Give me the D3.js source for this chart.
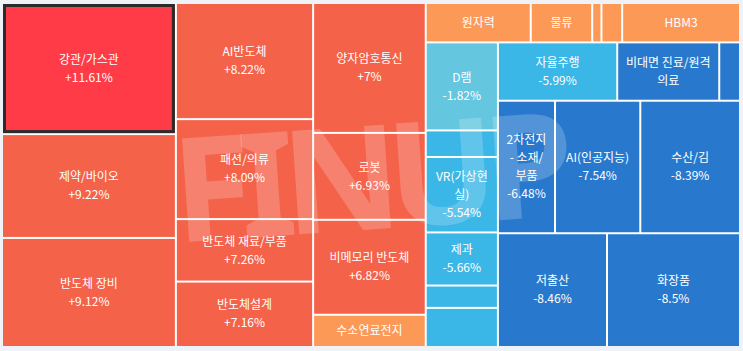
<!DOCTYPE html>
<html>
<head>
<meta charset="utf-8">
<script src="https://cdn.jsdelivr.net/npm/d3@7"></script>
<style>
  html, body { margin: 0; padding: 0; background: #eff2f7; }
  svg { display: block; }
  .cell-label { font-family: "Noto Sans CJK KR", "Noto Sans", sans-serif; font-size: 12px; fill: #fff; }
</style>
</head>
<body>
<div id="container"></div>
<script>
// theme names, sorted from highest to lowest change
// (empty names = cells too small to show a label, name not readable)
const themes = ["강관/가스관", "제약/바이오", "반도체 장비", "AI반도체", "패션/의류",
    "반도체 재료/부품", "반도체설계", "양자암호통신", "로봇", "비메모리 반도체",
    "수소연료전지", "원자력", "물류", "", "", "HBM3",
    "D램", "", "VR(가상현실)", "제과", "", "",
    "자율주행", "비대면 진료/원격 의료", "",
    "2차전지 - 소재/부품", "AI(인공지능)", "수산/김", "저출산", "화장품"];

// size of each theme (cell area)
const sizes = [226, 179, 188, 158, 136,
    85, 89, 145, 97, 106,
    36, 41, 24, 3.6, 8.1, 46,
    63, 19, 54, 38, 16, 28,
    69, 59, 12,
    75, 112, 131, 123, 150];

// change in %, the unlabeled ones are guesses from their colour / order
const changes = [11.61, 9.22, 9.12, 8.22, 8.09,
    7.26, 7.16, 7, 6.93, 6.82,
    4.5, 3.8, 3.1, 2.4, 1.7, 1.1,
    -1.82, -4.2, -5.54, -5.66, -5.8, -5.9,
    -5.99, -6.2, -6.4,
    -6.48, -7.54, -8.39, -8.46, -8.5];

const highlighted = "강관/가스관";

let w = 743;
let h = 351;
let padLeft = 3, padTop = 4;
let mapW = 736, mapH = 342;
let lineH = 18;

let viz = d3.select("#container")
    .append("svg")
    .attr("width", w)
    .attr("height", h);

// colour by change
let colorScale = d3.scaleThreshold()
    .domain([-6, -3, 0, 5, 10])
    .range(["#2879cd", "#3ab7e6", "#64c6df", "#fd9956", "#f4624a", "#fe3b46"]);

let root = d3.hierarchy({
    children: themes.map((name, i) => ({name: name, size: sizes[i], change: changes[i]}))
}).sum(d => d.size || 0);

d3.treemap()
    .size([mapW, mapH])
    .paddingInner(2)
    .tile(d3.treemapSquarify)(root);

let mapGroup = viz.append("g").attr("transform", `translate(${padLeft},${padTop})`);

// white shows through the gaps between cells
mapGroup.append("rect")
    .attr("width", mapW)
    .attr("height", mapH)
    .attr("fill", "#fff");

let cells = mapGroup.selectAll(".cell")
    .data(root.leaves())
    .enter()
    .append("g")
    .classed("cell", true)
    .attr("transform", d => `translate(${d.x0},${d.y0})`);

cells.append("rect")
    .attr("width", d => d.x1 - d.x0)
    .attr("height", d => d.y1 - d.y0)
    .attr("fill", d => colorScale(d.data.change));

// the selected cell gets a dark frame
cells.filter(d => d.data.name === highlighted)
    .append("rect")
    .attr("x", 1.5)
    .attr("y", 1.5)
    .attr("width", d => d.x1 - d.x0 - 3)
    .attr("height", d => d.y1 - d.y0 - 3)
    .attr("fill", "none")
    .attr("stroke", "#2b2b2b")
    .attr("stroke-width", 3);

// watermark
viz.append("text")
    .attr("x", 172)
    .attr("y", 229)
    .attr("textLength", 402)
    .attr("lengthAdjust", "spacing")
    .attr("transform", "rotate(-4,372,176)")
    .attr("font-family", "'Noto Sans', sans-serif")
    .attr("font-weight", 700)
    .attr("font-size", 145)
    .attr("fill", "#fff")
    .attr("fill-opacity", 0.2)
    .text("FINUP");

// text measuring helper
let measure = viz.append("text").classed("cell-label", true).attr("opacity", 0);
function textWidth(str) {
    measure.text(str);
    return measure.node().getComputedTextLength();
}

// break at spaces and after "/", fall back to single characters
function wrap(name, maxW) {
    let segs = name.split(/(?<=[ \/])/);
    let lines = [];
    let line = "";
    segs.forEach(seg => {
        let test = line + seg;
        if (line === "" || textWidth(test.trimEnd()) <= maxW) line = test;
        else { lines.push(line.trimEnd()); line = seg; }
    });
    if (line) lines.push(line.trimEnd());
    let out = [];
    lines.forEach(l => {
        if (textWidth(l) <= maxW) { out.push(l); return; }
        let cur = "";
        for (const ch of l) {
            if (cur && textWidth(cur + ch) > maxW) { out.push(cur); cur = ch; }
            else cur += ch;
        }
        if (cur) out.push(cur);
    });
    return out;
}

function formatChange(v) {
    return (v > 0 ? "+" : "") + v + "%";
}

let labelLayer = mapGroup.append("g");
root.leaves().forEach(d => {
    if (!d.data.name) return;
    let cw = d.x1 - d.x0;
    let ch = d.y1 - d.y0;
    let lines = wrap(d.data.name, cw - 12);
    if ((lines.length + 1) * lineH + 8 <= ch) lines.push(formatChange(d.data.change));
    else if (lines.length * lineH + 8 > ch) return;
    let cx = (d.x0 + d.x1) / 2;
    let cy = (d.y0 + d.y1) / 2;
    let t = labelLayer.append("text")
        .classed("cell-label", true)
        .attr("text-anchor", "middle");
    lines.forEach((l, i) => {
        t.append("tspan")
            .attr("x", cx)
            .attr("y", cy - (lines.length - 1) * lineH / 2 + i * lineH)
            .attr("dy", "0.35em")
            .text(l);
    });
});
measure.remove();
</script>
</body>
</html>
